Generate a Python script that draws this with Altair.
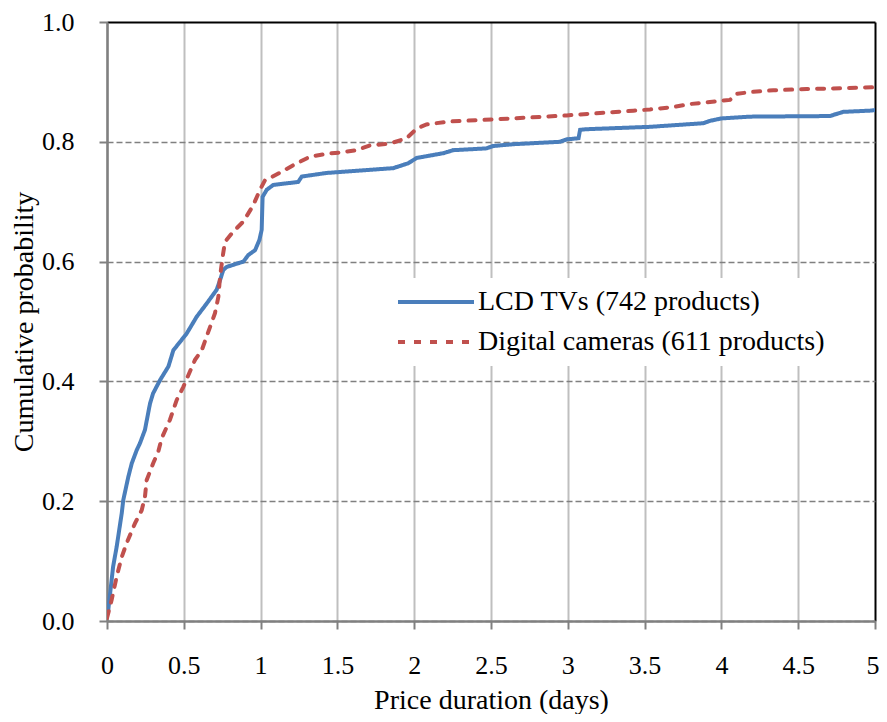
import altair as alt
import pandas as pd

# ---- data ----
SERIES = ["LCD TVs (742 products)", "Digital cameras (611 products)"]

LCD_X = [0, 0.008, 0.04, 0.063, 0.096, 0.106, 0.139, 0.161, 0.193, 0.215, 0.247, 0.28, 0.30,
         0.345, 0.40, 0.432, 0.519, 0.584, 0.649, 0.714, 0.736, 0.757, 0.779, 0.888, 0.92,
         0.964, 0.992, 1.007, 1.013, 1.04, 1.083, 1.245, 1.268, 1.43, 1.864, 1.96, 2.016,
         2.19, 2.255, 2.47, 2.515, 2.645, 2.949, 2.993, 3.07, 3.08, 3.12, 3.535, 3.882,
         3.926, 4.0, 4.186, 4.707, 4.794, 4.967, 5.0]
LCD_Y = [0.012, 0.018, 0.091, 0.124, 0.18, 0.202, 0.241, 0.263, 0.285, 0.297, 0.319, 0.363, 0.38,
         0.402, 0.425, 0.452, 0.48, 0.508, 0.530, 0.553, 0.569, 0.586, 0.591, 0.600, 0.611,
         0.619, 0.636, 0.653, 0.708, 0.72, 0.728, 0.733, 0.742, 0.748, 0.756, 0.764, 0.773,
         0.781, 0.786, 0.789, 0.793, 0.796, 0.80, 0.804, 0.806, 0.82, 0.821, 0.825, 0.831,
         0.835, 0.839, 0.842, 0.843, 0.85, 0.852, 0.853]

CAM_X = [0, 0.03, 0.063, 0.096, 0.128, 0.182, 0.226, 0.247, 0.258, 0.30, 0.334, 0.356, 0.389,
         0.41, 0.454, 0.497, 0.573, 0.617, 0.66, 0.703, 0.725, 0.736, 0.753, 0.768, 0.822,
         0.888, 0.952, 0.996, 1.029, 1.072, 1.137, 1.213, 1.32, 1.43, 1.517, 1.626, 1.712,
         1.842, 1.951, 2.016, 2.08, 2.233, 2.559, 2.993, 3.21, 3.427, 3.535, 3.687, 3.796,
         4.056, 4.1, 4.186, 4.338, 4.555, 5.0]
CAM_Y = [0.005, 0.035, 0.074, 0.107, 0.13, 0.163, 0.185, 0.207, 0.235, 0.263, 0.283, 0.305, 0.324,
         0.336, 0.369, 0.391, 0.436, 0.452, 0.483, 0.514, 0.541, 0.575, 0.608, 0.633, 0.65,
         0.667, 0.694, 0.72, 0.736, 0.741, 0.75, 0.761, 0.775, 0.780, 0.782, 0.786, 0.794,
         0.797, 0.806, 0.822, 0.829, 0.834, 0.838, 0.844, 0.848, 0.852, 0.854, 0.858, 0.863,
         0.87, 0.88, 0.883, 0.886, 0.888, 0.891]

X_TICKS = [0, 0.5, 1, 1.5, 2, 2.5, 3, 3.5, 4, 4.5, 5]
Y_TICKS = [0, 0.2, 0.4, 0.6, 0.8, 1.0]

rows = []
for i, (x, y) in enumerate(zip(LCD_X, LCD_Y)):
    rows.append({"x": x, "y": y, "series": SERIES[0], "order": i})
for i, (x, y) in enumerate(zip(CAM_X, CAM_Y)):
    rows.append({"x": x, "y": y, "series": SERIES[1], "order": i})
df = pd.DataFrame(rows)

FONT = "Liberation Serif"

x_axis = alt.Axis(
    values=X_TICKS, format="~g", title="Price duration (days)",
    grid=True,
    gridColor={"condition": {"test": "datum.value >= 5", "value": "black"}, "value": "#bfbfbf"},
    gridWidth=2,
    domainColor="#808080", domainWidth=2.5,
    tickColor="#808080", tickWidth=2, tickSize=8,
    labelFont=FONT, labelFontSize=26, labelColor="black", labelPadding=23,
    labelFlush=False, labelOverlap=False,
    labelAlign={"condition": {"test": "datum.value >= 5", "value": "right"}, "value": "center"},
    labelOffset={"condition": {"test": "datum.value >= 5", "value": 4}, "value": 0},
    titleFont=FONT, titleFontSize=28, titleFontWeight="normal", titleColor="black",
    titlePadding=8,
)
y_axis = alt.Axis(
    values=Y_TICKS, format=".1f", title="Cumulative probability",
    grid=True,
    gridColor={"condition": {"test": "datum.value >= 1", "value": "black"}, "value": "#808080"},
    gridDash={"condition": {"test": "datum.value >= 1", "value": []}, "value": [6, 3]},
    gridWidth={"condition": {"test": "datum.value >= 1", "value": 2}, "value": 1.5},
    domainColor="#808080", domainWidth=2.5,
    tickColor="#808080", tickWidth=2, tickSize=8,
    labelFont=FONT, labelFontSize=26, labelColor="black", labelPadding=25,
    labelFlush=False, labelOverlap=False,
    titleFont=FONT, titleFontSize=28, titleFontWeight="normal", titleColor="black",
    titlePadding=3,
)

chart = alt.Chart(df).mark_line(strokeWidth=4, clip=True, strokeCap="round").encode(
    x=alt.X("x:Q", scale=alt.Scale(domain=[0, 5], nice=False), axis=x_axis),
    y=alt.Y("y:Q", scale=alt.Scale(domain=[0, 1], nice=False), axis=y_axis),
    color=alt.Color("series:N", scale=alt.Scale(domain=SERIES, range=["#4a7ebb", "#c0504d"]),
                    legend=alt.Legend(title=None)),
    strokeDash=alt.StrokeDash("series:N", scale=alt.Scale(domain=SERIES, range=[[1, 0], [7, 9]]),
                              legend=alt.Legend(title=None)),
    order="order:Q",
).properties(
    width=768, height=599,
    autosize=alt.AutoSizeParams(type="none"),
    padding={"left": 99, "top": 14, "right": 4, "bottom": 93},
).configure_view(
    stroke=None
).configure_axis(
    labelFont=FONT, titleFont=FONT
).configure_legend(
    orient="none", legendX=279, legendY=256,
    fillColor="white", padding=10,
    symbolType="stroke", symbolSize=5776, symbolStrokeWidth=4,
    labelFont=FONT, labelFontSize=28, labelColor="black", labelOffset=2, labelLimit=0,
    clipHeight=28, rowPadding=12,
)

chart.save("out.html", embed_options={"renderer": "svg", "actions": False})
